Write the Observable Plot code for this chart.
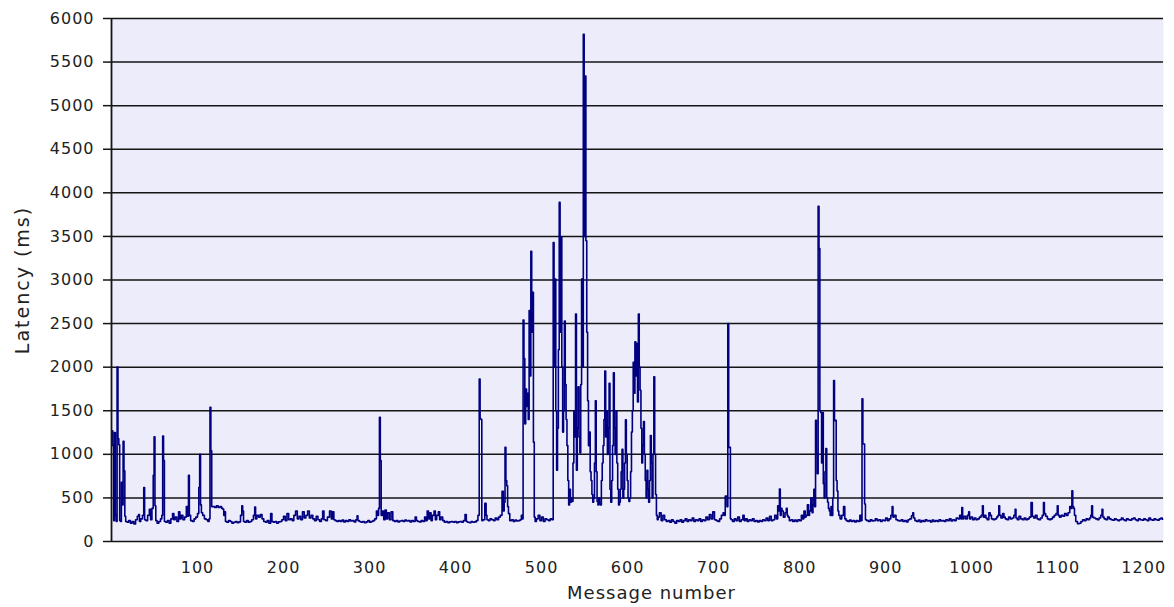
<!DOCTYPE html>
<html><head><meta charset="utf-8">
<script src="https://cdn.jsdelivr.net/npm/d3@7"></script>
<script src="https://cdn.jsdelivr.net/npm/@observablehq/plot@0.6"></script>
<style>
html,body{margin:0;padding:0;background:#fff;}
#chart{width:1174px;height:607px;}
#chart svg text{letter-spacing:1px;}
</style></head><body><div id="chart"></div>
<script>
const xTicks = [100,200,300,400,500,600,700,800,900,1000,1100,1200];
const yTicks = [0,500,1000,1500,2000,2500,3000,3500,4000,4500,5000,5500,6000];
const xTitle = "Message number";
const yTitle = "Latency (ms)";
const messageRange = [0, 1223];
const latencyRange = [0, 6000];

// [message number, latency in ms]
const latencyReadings = [
[1,1270],[2,1100],[3,240],[4,1250],[5,300],[6,230],[7,2000],[8,1180],[9,1110],[10,240],[11,230],[12,680],[13,420],[14,1150],[15,810],[16,290],[17,230],[19,220],[21,240],[23,210],[25,230],[27,200],[29,250],[31,290],[32,310],[33,230],[35,260],[37,300],[38,620],[39,250],[41,240],[43,300],[45,370],[46,250],[48,380],[49,760],[50,1200],[51,410],[52,240],[54,210],[56,230],[58,260],[59,300],[60,1210],[61,930],[62,230],[64,220],[66,240],[68,210],[70,260],[72,320],[73,250],[75,280],[77,230],[79,340],[80,260],[82,300],[84,250],[86,280],[88,400],[89,290],[90,760],[91,300],[93,240],[95,230],[97,260],[99,280],[101,320],[102,620],[103,1000],[104,420],[105,330],[107,300],[109,260],[111,250],[113,230],[114,260],[115,1540],[116,1040],[117,400],[119,400],[121,390],[123,410],[125,390],[127,400],[129,380],[130,370],[131,300],[132,340],[133,230],[135,220],[137,240],[139,230],[141,210],
[143,220],[145,230],[147,215],[149,225],[151,300],[152,410],[153,350],[154,230],[156,220],[158,240],[160,220],[162,230],[164,250],[166,300],[167,395],[168,260],[170,300],[172,280],[174,310],[176,260],[178,230],[180,220],[182,240],[184,210],[186,320],[187,230],[189,220],[191,230],[193,210],[195,225],[197,230],[199,250],[201,290],[203,240],[205,320],[207,250],[209,260],[211,240],[213,300],[215,350],[217,260],[219,290],[221,250],[223,340],[225,270],[227,300],[229,350],[231,270],[233,300],[235,260],[237,240],[239,290],[241,250],[243,230],[245,260],[246,350],[248,250],[250,240],[252,280],[255,350],[256,260],[258,340],[259,250],[261,240],[263,230],[265,240],[267,230],[269,245],[271,225],[273,240],[275,230],[277,250],[279,235],[281,240],[283,225],[285,250],[286,295],[287,240],[289,230],[291,220],[293,230],[295,215],[297,225],[299,240],[301,220],[303,230],[305,240],[307,260],[309,350],[310,300],[311,380],[312,1425],[313,930],[314,300],[316,350],[317,250],[319,360],[320,260],[322,330],[324,250],[326,340],[328,240],[330,230],
[332,240],[334,225],[336,235],[338,240],[340,230],[342,245],[344,235],[346,240],[348,225],[350,240],[352,230],[354,280],[355,240],[357,230],[359,225],[361,240],[363,230],[365,280],[366,240],[368,350],[369,260],[371,330],[372,240],[374,300],[376,350],[377,250],[379,300],[381,340],[382,250],[384,280],[386,240],[388,220],[390,230],[392,215],[394,225],[396,230],[398,220],[400,230],[402,215],[404,225],[406,230],[408,220],[410,240],[412,310],[413,230],[415,220],[417,215],[419,230],[421,220],[423,225],[425,240],[427,300],[428,1865],[429,1410],[430,1400],[431,240],[433,250],[435,437],[436,300],[437,250],[439,240],[441,260],[443,250],[445,240],[447,270],[449,250],[451,280],[453,300],[455,575],[456,350],[457,450],[458,1080],[459,700],[460,640],[461,400],[462,320],[464,240],[466,250],[468,230],[470,245],[472,235],[474,240],[476,250],[477,300],[478,260],
[479,2540],[480,2100],[481,1350],[482,1750],[483,1550],[484,1700],[485,1400],[486,2650],[487,1900],[488,3330],[489,2400],[490,2860],[491,1140],[492,280],
[493,230],[495,260],[497,300],[499,240],[501,280],[503,230],[505,260],[507,250],[509,240],[511,260],[513,250],
[514,3430],[515,2000],[516,3010],[517,1500],[518,817],[519,1300],[520,2200],[521,3890],[522,2400],[523,3490],[524,2000],[525,1255],[526,1500],[527,2530],[528,1800],[529,1400],[530,1100],[531,700],[532,420],[533,600],[534,450],[535,500],[536,460],[537,900],[538,1500],[539,1200],[540,2610],[541,817],[542,1300],[543,1775],[544,1200],[545,1017],[546,1800],[547,3010],[548,2000],[549,5820],[550,3500],[551,5340],[552,3450],[553,2400],[554,1615],[555,1100],[556,1255],[557,800],[558,700],[559,540],[560,450],[561,500],[562,900],[563,1615],[564,800],[565,460],[566,420],[567,500],[568,430],[569,420],[570,700],[571,900],[572,1100],[573,1400],[574,1955],[575,1200],[576,1495],[577,1000],[578,1300],[579,1815],[580,600],[581,450],[582,700],[583,1100],[584,1935],[585,1300],[586,1000],[587,1495],[588,900],[589,600],[590,420],[591,450],[592,600],[593,800],[594,1057],[595,500],[596,600],[597,900],[598,1395],[599,1000],[600,700],[601,500],[602,460],[603,500],[604,800],[605,1255],[606,1500],[607,2057],[608,1700],[609,2290],[610,1900],[611,2270],[612,1600],[613,2610],[614,2000],[615,1735],[616,1300],[617,900],[618,1100],[619,1375],[620,1000],[621,700],[622,500],[623,817],[624,600],[625,450],[626,700],[627,1215],[628,900],[629,500],[630,1000],[631,1890],[632,1000],[633,540],[634,300],[635,250],
[636,280],[638,330],[640,240],[642,300],[644,250],[646,230],[648,240],[650,220],[652,250],[654,230],[656,210],[658,240],[660,230],[662,250],[664,220],[666,240],[668,260],[670,230],[672,250],[674,240],[676,270],[678,230],[680,250],[682,240],[684,260],[686,230],[688,250],[690,240],[692,280],[694,250],[696,310],[698,260],[700,340],[702,250],[704,240],[706,230],[708,260],[710,300],[712,330],[713,300],[714,520],[715,520],[716,400],[717,2500],[718,1080],[719,1080],[720,260],
[721,250],[723,230],[725,260],[727,240],[729,280],[731,230],[733,250],[735,300],[736,240],[738,260],[740,230],[742,250],[744,240],[746,260],[748,230],[750,240],[752,225],[754,240],[756,230],[758,250],[760,240],[762,270],[764,240],[766,290],[768,240],[770,250],[772,300],[774,260],[775,410],[776,350],[777,602],[778,300],[779,380],[780,350],[782,280],[784,330],[785,380],[786,300],[787,280],[789,240],[791,250],[793,230],[795,245],[797,230],[799,250],[801,240],[803,300],[804,260],[806,350],[807,280],[808,300],[810,420],[811,300],[812,350],[814,500],[815,330],[816,420],[817,600],[818,400],[819,1390],[820,1000],[821,778],[822,3846],[823,3360],[824,1500],[825,1480],[826,900],[827,1480],[828,663],[829,500],[830,800],[831,1065],[832,500],[833,450],[834,380],[835,350],[836,300],[837,400],[838,300],[839,500],[840,1846],[841,1387],[842,1390],[843,700],[844,580],[845,350],[846,300],[848,260],[850,300],[852,400],[853,260],[855,240],[857,230],[859,245],[861,230],[863,240],[865,225],[867,240],[869,230],[871,300],[872,240],[873,1636],[874,1119],[875,1119],[876,430],[877,250],
[879,240],[881,230],[883,250],[885,235],[887,240],[889,260],[891,240],[893,250],[895,230],[897,245],[899,240],[901,270],[903,240],[905,260],[907,300],[908,400],[909,280],[911,300],[913,250],[915,240],[917,235],[919,250],[921,230],[923,240],[925,225],[927,250],[929,260],[931,295],[932,330],[933,270],[935,240],[937,230],[939,245],[941,225],[943,240],[945,230],[947,250],[949,235],[951,240],[953,225],[955,245],[957,230],[959,240],[961,230],[963,250],[965,235],[967,240],[969,230],[971,250],[973,240],[975,260],[977,235],[979,250],[981,240],[983,270],[985,260],[987,300],[988,260],[989,390],[990,260],[992,290],[994,260],[996,300],[997,340],[998,260],[1000,280],[1002,250],[1004,270],[1006,250],[1008,260],[1010,280],[1012,300],[1013,410],[1014,280],[1016,300],[1017,270],[1019,250],[1021,330],[1022,300],[1024,260],[1026,250],[1028,260],[1030,280],[1031,300],[1032,410],[1033,300],[1035,270],[1037,320],[1038,280],[1040,260],[1042,250],[1044,280],[1046,260],[1048,270],[1050,300],[1051,370],[1052,270],[1054,250],[1056,290],[1058,260],[1060,250],[1062,270],[1064,250],[1066,260],[1068,280],[1070,448],[1071,290],[1073,270],[1075,300],[1077,260],[1079,250],[1081,270],[1083,300],[1084,448],[1085,320],[1087,290],[1089,260],[1091,250],[1093,260],[1095,280],[1097,300],[1099,320],[1100,410],[1101,300],[1103,280],[1105,300],[1107,290],[1109,320],[1111,300],[1113,330],[1115,400],[1116,380],[1117,583],[1118,400],[1119,380],[1120,300],[1122,230],[1124,203],[1126,210],[1128,230],[1130,250],[1132,240],[1134,260],[1136,250],[1138,270],[1139,300],[1140,410],[1141,280],[1143,270],[1145,260],[1147,250],[1149,270],[1151,300],[1152,370],[1153,280],[1155,260],[1157,250],[1159,280],[1161,260],[1163,250],[1165,245],[1167,260],[1169,250],[1171,240],[1173,250],[1175,270],[1177,250],[1179,240],[1181,260],[1183,250],[1185,245],[1187,260],[1189,270],[1191,250],[1193,240],[1195,260],[1197,250],[1199,245],[1201,260],[1203,250],[1205,240],[1207,270],[1209,250],[1211,245],[1213,260],[1215,250],[1217,245],[1219,260],[1221,270],[1222,255]
];

const data = latencyReadings.map(([message, latency]) => ({message, latency}));

const chart = Plot.plot({
  width: 1174,
  height: 607,
  marginLeft: 111,
  marginRight: 11,
  marginTop: 18,
  marginBottom: 66,
  style: {fontFamily: "'DejaVu Sans', Verdana, sans-serif", fontSize: "16px", color: "#222", background: "#fff"},
  x: {domain: messageRange},
  y: {domain: latencyRange},
  marks: [
    Plot.frame({fill: "#ECECFA", stroke: null}),
    Plot.gridY(yTicks, {stroke: "#151515", strokeOpacity: 1, strokeWidth: 1.5}),
    Plot.line(data, {x: "message", y: "latency", stroke: "#000080", strokeWidth: 1.6, curve: "step"}),
    Plot.ruleX([messageRange[0]], {stroke: "#151515", strokeWidth: 1.8}),
    Plot.axisY(yTicks, {tickSize: 8, tickPadding: 9, label: null, tickFormat: d => String(d), stroke: "#151515", strokeWidth: 1.5}),
    Plot.axisX(xTicks, {tickSize: 0, tickPadding: 20, label: null, tickFormat: d => String(d)}),
    Plot.text([xTitle], {frameAnchor: "bottom", dy: 52, dx: 14, textAnchor: "middle", lineAnchor: "middle", fontSize: 18, fill: "#222"}),
    Plot.text([yTitle], {frameAnchor: "left", dx: -89, rotate: -90, textAnchor: "middle", lineAnchor: "middle", fontSize: 19, fill: "#222"})
  ]
});
d3.select(chart).selectAll("text").filter(function () { return this.textContent === yTitle; }).style("letter-spacing", "2px");
document.getElementById("chart").appendChild(chart);
</script>
</body></html>
